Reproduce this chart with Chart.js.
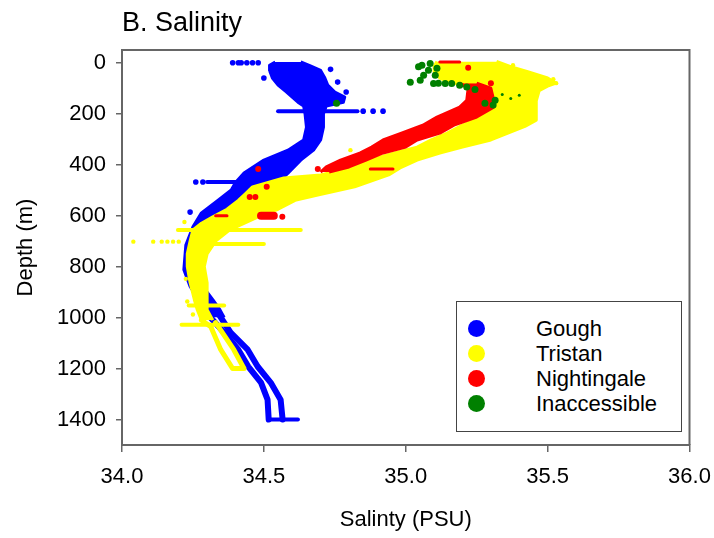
<!DOCTYPE html>
<html>
<head>
<meta charset="utf-8">
<script src="https://cdn.jsdelivr.net/npm/chart.js@4.4.1/dist/chart.umd.min.js"></script>
<style>
  body { margin: 0; background: #fff; }
  #wrap { position: relative; width: 714px; height: 538px; }
  #legend {
    position: absolute; left: 456px; top: 301px; width: 226px; height: 131px;
    border: 1.5px solid #444; box-sizing: border-box; background: #fff;
    font-family: "Liberation Sans", Arial, sans-serif; font-size: 22px; color: #000;
  }
  .row { position: absolute; left: 0; width: 100%; height: 25px; line-height: 25px; }
  .dot { position: absolute; left: 11px; top: 4px; width: 17px; height: 17px; border-radius: 50%; }
  .lbl { position: absolute; left: 79px; top: 0; white-space: nowrap; }
</style>
</head>
<body>
<div id="wrap">
  <canvas id="myChart" width="714" height="538"></canvas>
  <div id="legend"></div>
</div>
<script>
// ticks
const xTicks = [34.0, 34.5, 35.0, 35.5, 36.0];
const yTicks = [0, 200, 400, 600, 800, 1000, 1200, 1400];

// legend
const siteNames = ["Gough", "Tristan", "Nightingale", "Inaccessible"];
const siteColors = ["#0000ff", "#ffff00", "#ff0000", "#008000"];

// Gough - main cloud (min / max salinity at each depth)
const goughDepth = [-3, 10, 30, 60, 88, 115, 135, 155, 170, 200, 253, 303, 343, 382, 433, 470, 499, 538, 589, 644, 715, 812, 878, 930, 969, 1000];
const goughMin = [34.54, 34.52, 34.52, 34.53, 34.55, 34.58, 34.60, 34.62, 34.64, 34.645, 34.65, 34.64, 34.585, 34.50, 34.43, 34.40, 34.385, 34.34, 34.28, 34.25, 34.225, 34.218, 34.24, 34.27, 34.29, 34.31];
const goughMax = [34.63, 34.66, 34.70, 34.715, 34.725, 34.75, 34.785, 34.78, 34.72, 34.71, 34.71, 34.70, 34.675, 34.63, 34.585, 34.55, 34.50, 34.45, 34.38, 34.31, 34.26, 34.25, 34.285, 34.32, 34.345, 34.36];
// Gough - two deep casts
const goughDeepDepth = [985, 1059, 1126, 1192, 1255, 1322, 1400];
const goughDeepA = [34.30, 34.36, 34.41, 34.445, 34.49, 34.513, 34.517];
const goughDeepB = [34.34, 34.383, 34.443, 34.478, 34.524, 34.559, 34.566];
// Gough - horizontal runs of points
const goughStreakDepth = [190, 468, 1400];
const goughStreakFrom = [34.55, 34.30, 34.517];
const goughStreakTo = [34.83, 34.594, 34.62];
// Gough - single points
const goughDotSal = [34.39, 34.41, 34.42, 34.44, 34.46, 34.48, 34.85, 34.885, 34.92, 34.26, 34.285, 34.50, 34.24, 34.76, 34.735, 34.79];
const goughDotDepth = [0, 0, 0, 0, 0, 0, 190, 190, 190, 468, 468, 60, 586, 76, 26, 115];

// Tristan - main cloud
const tristanDepth = [-5, 15, 35, 60, 80, 92, 110, 150, 200, 225, 250, 276, 303, 331, 354, 382, 413, 440, 452, 487, 519, 540, 575, 605, 630, 656, 700, 750, 800, 863, 930, 969, 1010];
const tristanMin = [35.11, 35.10, 35.10, 35.12, 35.16, 35.25, 35.30, 35.31, 35.28, 35.24, 35.19, 35.146, 35.09, 35.04, 34.96, 34.87, 34.80, 34.70, 34.57, 34.46, 34.43, 34.41, 34.37, 34.32, 34.28, 34.25, 34.24, 34.23, 34.23, 34.24, 34.255, 34.265, 34.28];
const tristanMax = [35.32, 35.37, 35.43, 35.50, 35.53, 35.50, 35.47, 35.46, 35.46, 35.46, 35.42, 35.36, 35.30, 35.20, 35.12, 35.04, 34.98, 34.94, 34.91, 34.82, 34.69, 34.61, 34.55, 34.48, 34.43, 34.38, 34.33, 34.30, 34.29, 34.30, 34.30, 34.30, 34.32];
// Tristan - deep loop
const tristanDeepSal = [34.28, 34.313, 34.348, 34.39, 34.43, 34.394, 34.33];
const tristanDeepDepth = [1010, 1036, 1126, 1200, 1200, 1126, 1020];
// Tristan - horizontal runs
const tristanStreakDepth = [656, 711, 953, 1028];
const tristanStreakFrom = [34.197, 34.31, 34.235, 34.21];
const tristanStreakTo = [34.63, 34.50, 34.36, 34.41];
// Tristan - single points
const tristanDotSal = [34.04, 34.11, 34.14, 34.16, 34.18, 34.20, 34.22, 34.225, 34.23, 34.25, 35.378, 35.52, 35.53, 35.33, 34.805];
const tristanDotDepth = [702, 702, 702, 702, 702, 702, 625, 848, 937, 988, 10, 65, 80, 268, 343];

// Nightingale - main cloud
const nightDepth = [80, 100, 147, 174, 213, 245, 276, 303, 331, 354, 382, 409, 429];
const nightMin = [35.19, 35.22, 35.215, 35.19, 35.11, 35.06, 34.985, 34.92, 34.88, 34.84, 34.77, 34.72, 34.70];
const nightMax = [35.25, 35.30, 35.31, 35.31, 35.25, 35.17, 35.12, 35.04, 35.00, 34.92, 34.86, 34.80, 34.73];
// Nightingale - horizontal runs
const nightStreakDepth = [-3, 600, 417];
const nightStreakFrom = [35.12, 34.33, 34.875];
const nightStreakTo = [35.19, 34.37, 34.955];
const nightBlobSal = [34.49, 34.535];
const nightBlobDepth = [600, 600];
// Nightingale - single points
const nightDotSal = [34.69, 34.48, 34.51, 34.45, 34.47, 34.565, 35.30, 35.22];
const nightDotDepth = [417, 417, 487, 527, 527, 604, 80, 20];

// Inaccessible - single points
const inaccSal = [35.016, 35.051, 35.063, 35.045, 35.057, 35.086, 35.104, 35.098, 35.115, 35.139, 35.162, 35.19, 35.215, 35.244, 35.279, 35.308, 35.315, 35.08, 35.11, 34.756];
const inaccDepth = [77, 69, 49, 16, 10, 3, 49, 81, 80, 81, 81, 88, 95, 105, 159, 166, 147, 29, 22, 159];
const inaccSpeckSal = [35.34, 35.37, 35.40];
const inaccSpeckDepth = [125, 140, 128];

// ---- build datasets ----
function pts(sal, dep) {
  return sal.map((s, i) => ({ x: s, y: dep[i] }));
}

const datasets = [];

function addBand(dep, lo, hi, color, order) {
  datasets.push({ data: pts(lo, dep), borderColor: color, borderWidth: 3, pointRadius: 0, fill: false, borderJoinStyle: "round", order });
  datasets.push({ data: pts(hi, dep), borderColor: color, backgroundColor: color, borderWidth: 3, pointRadius: 0, fill: "-1", borderJoinStyle: "round", order });
}

function addLine(sal, dep, color, width, order) {
  datasets.push({ data: pts(sal, dep), borderColor: color, borderWidth: width, pointRadius: 0, fill: false, borderCapStyle: "round", borderJoinStyle: "round", order });
}

function addStreaks(dep, from, to, color, width, order) {
  dep.forEach((d, i) => addLine([from[i], to[i]], [d, d], color, width, order));
}

function addDots(sal, dep, color, r, order) {
  datasets.push({ data: pts(sal, dep), showLine: false, pointRadius: r, pointBackgroundColor: color, pointBorderWidth: 0, borderColor: color, order });
}

const [blue, yellow, red, green] = siteColors;

// Gough (drawn lowest)
addBand(goughDepth, goughMin, goughMax, blue, 4);
addLine(goughDeepA, goughDeepDepth, blue, 6, 4);
addLine(goughDeepB, goughDeepDepth, blue, 6, 4);
addStreaks(goughStreakDepth, goughStreakFrom, goughStreakTo, blue, 4, 4);
addDots(goughDotSal, goughDotDepth, blue, 2.8, 4);

// Tristan
addBand(tristanDepth, tristanMin, tristanMax, yellow, 3);
addLine(tristanDeepSal, tristanDeepDepth, yellow, 5, 3);
addStreaks(tristanStreakDepth, tristanStreakFrom, tristanStreakTo, yellow, 4, 3);
addDots(tristanDotSal, tristanDotDepth, yellow, 2.2, 3);

// Nightingale
addBand(nightDepth, nightMin, nightMax, red, 2);
addStreaks(nightStreakDepth, nightStreakFrom, nightStreakTo, red, 3, 2);
addLine(nightBlobSal, nightBlobDepth, red, 8, 2);
addDots(nightDotSal, nightDotDepth, red, 3, 2);

// Inaccessible (drawn on top)
addDots(inaccSal, inaccDepth, green, 3.5, 1);
addDots(inaccSpeckSal, inaccSpeckDepth, green, 1.5, 1);

// frame: top and right sides of the plot box
const frame = {
  id: "frame",
  afterDatasetsDraw(chart) {
    const { ctx, chartArea: a } = chart;
    ctx.save();
    ctx.strokeStyle = "#666";
    ctx.lineWidth = 2;
    ctx.beginPath();
    ctx.moveTo(a.left, a.top);
    ctx.lineTo(a.right, a.top);
    ctx.lineTo(a.right, a.bottom);
    ctx.stroke();
    ctx.restore();
  },
};

const fontFam = '"Liberation Sans", Arial, sans-serif';

new Chart(document.getElementById("myChart"), {
  type: "line",
  data: { datasets },
  plugins: [frame],
  options: {
    indexAxis: "y",
    responsive: false,
    devicePixelRatio: 1,
    animation: false,
    layout: { padding: { left: 0, right: 24.5, top: 0, bottom: 0 } },
    plugins: {
      legend: { display: false },
      tooltip: { enabled: false },
      title: {
        display: true,
        text: "B. Salinity",
        align: "start",
        fullSize: false,
        color: "#000",
        font: { family: fontFam, size: 27, weight: "normal", lineHeight: 1.2 },
        padding: { top: 7, bottom: 10.6 },
      },
    },
    scales: {
      x: {
        type: "linear",
        position: "bottom",
        min: 34,
        max: 36,
        afterBuildTicks: (s) => { s.ticks = xTicks.map((v) => ({ value: v })); },
        afterFit: (s) => { s.height = 93; s.paddingLeft = 0; s.paddingRight = 0; },
        ticks: {
          callback: (v) => Number(v).toFixed(1),
          color: "#000",
          font: { family: fontFam, size: 22 },
          padding: 12,
          maxRotation: 0,
          autoSkip: false,
        },
        grid: { drawOnChartArea: false, tickLength: 7, color: "#666", lineWidth: 1.5 },
        border: { color: "#666", width: 2 },
        title: {
          display: true,
          text: "Salinty (PSU)",
          color: "#000",
          font: { family: fontFam, size: 22, lineHeight: 1.2 },
          padding: { top: 0, bottom: 4.5 },
        },
      },
      y: {
        type: "linear",
        position: "left",
        reverse: true,
        min: -50,
        max: 1500,
        afterBuildTicks: (s) => { s.ticks = yTicks.map((v) => ({ value: v })); },
        afterFit: (s) => { s.width = 122; s.paddingTop = 0; s.paddingBottom = 0; },
        ticks: {
          callback: (v) => String(v),
          color: "#000",
          font: { family: fontFam, size: 22 },
          padding: 10,
          autoSkip: false,
        },
        grid: { drawOnChartArea: false, tickLength: 6, color: "#666", lineWidth: 1.5 },
        border: { color: "#666", width: 2 },
        title: {
          display: true,
          text: "Depth (m)",
          color: "#000",
          font: { family: fontFam, size: 22, lineHeight: 1.2 },
          padding: { top: 13, bottom: 0 },
        },
      },
    },
  },
});

// html legend
const legend = document.getElementById("legend");
siteNames.forEach((name, i) => {
  const row = document.createElement("div");
  row.className = "row";
  row.style.top = 14.3 + i * 25 + "px";
  const dot = document.createElement("div");
  dot.className = "dot";
  dot.style.background = siteColors[i];
  const lbl = document.createElement("div");
  lbl.className = "lbl";
  lbl.textContent = name;
  row.appendChild(dot);
  row.appendChild(lbl);
  legend.appendChild(row);
});
</script>
</body>
</html>
